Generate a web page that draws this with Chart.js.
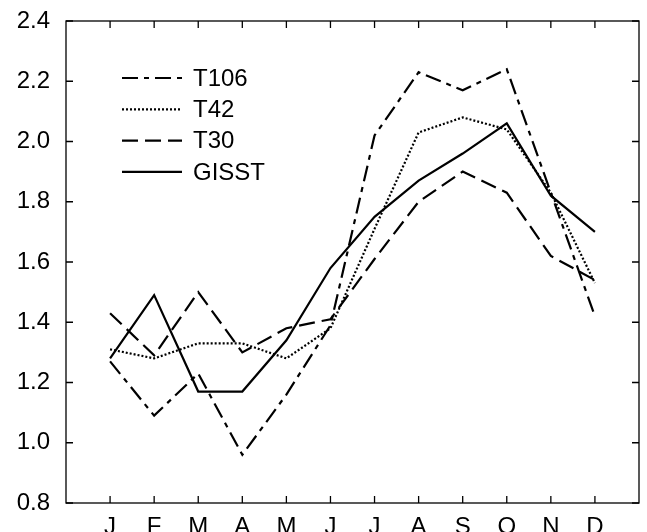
<!DOCTYPE html>
<html>
<head>
<meta charset="utf-8">
<script src="https://cdn.jsdelivr.net/npm/chart.js@4"></script>
<style>
    html, body { margin: 0; padding: 0; background: #fff; }
    #wrap { width: 647px; height: 532px; }
</style>
</head>
<body>
<div id="wrap"><canvas id="chart"></canvas></div>
<script>
const months = ['J', 'F', 'M', 'A', 'M', 'J', 'J', 'A', 'S', 'O', 'N', 'D'];
const yTicks = [0.8, 1.0, 1.2, 1.4, 1.6, 1.8, 2.0, 2.2, 2.4];

const t106 = [1.27, 1.09, 1.23, 0.96, 1.16, 1.39, 2.02, 2.23, 2.17, 2.24, 1.83, 1.42];
const t42 = [1.31, 1.28, 1.33, 1.33, 1.28, 1.38, 1.71, 2.03, 2.08, 2.04, 1.83, 1.53];
const t30 = [1.43, 1.29, 1.50, 1.30, 1.38, 1.41, 1.61, 1.80, 1.90, 1.83, 1.62, 1.54];
const gisst = [1.28, 1.49, 1.17, 1.17, 1.34, 1.58, 1.75, 1.87, 1.96, 2.06, 1.82, 1.70];

const FONT = '"Liberation Sans", Arial, Helvetica, sans-serif';

function series(label, values, dash, width) {
    return {
        label,
        data: values.map((v, i) => ({x: i, y: v})),
        borderColor: '#000',
        borderWidth: width,
        borderDash: dash,
        pointRadius: 0,
        tension: 0,
        fill: false
    };
}

// frame with inward ticks on all four sides, plus the line-sample legend
const framePlugin = {
    id: 'frame',
    afterDraw(chart) {
        const ctx = chart.ctx;
        const a = chart.chartArea;
        const xs = chart.scales.x, ys = chart.scales.y;
        const len = 7;

        ctx.save();
        ctx.strokeStyle = '#000';
        ctx.lineWidth = 1.3;
        ctx.setLineDash([]);
        ctx.strokeRect(a.left, a.top, a.right - a.left, a.bottom - a.top);

        ctx.beginPath();
        months.forEach((m, i) => {
            const px = xs.getPixelForValue(i);
            ctx.moveTo(px, a.bottom);
            ctx.lineTo(px, a.bottom - len);
            ctx.moveTo(px, a.top);
            ctx.lineTo(px, a.top + len);
        });
        yTicks.forEach(v => {
            const py = ys.getPixelForValue(v);
            ctx.moveTo(a.left, py);
            ctx.lineTo(a.left + len, py);
            ctx.moveTo(a.right, py);
            ctx.lineTo(a.right - len, py);
        });
        ctx.stroke();

        // legend
        ctx.font = `24px ${FONT}`;
        ctx.fillStyle = '#000';
        ctx.textBaseline = 'middle';
        chart.data.datasets.forEach((ds, i) => {
            const y = 78 + i * 31.3;
            ctx.beginPath();
            ctx.lineWidth = ds.borderWidth;
            ctx.setLineDash(ds.borderDash);
            ctx.moveTo(122, y);
            ctx.lineTo(182, y);
            ctx.stroke();
            ctx.setLineDash([]);
            ctx.fillText(ds.label, 193, y + 1);
        });
        ctx.restore();
    }
};

new Chart(document.getElementById('chart'), {
    type: 'line',
    data: {
        datasets: [
            series('T106', t106, [16, 6, 5, 6], 2.2),
            series('T42', t42, [2, 2], 2.2),
            series('T30', t30, [16, 7], 2.2),
            series('GISST', gisst, [], 2.2)
        ]
    },
    options: {
        responsive: true,
        maintainAspectRatio: false,
        animation: false,
        layout: {
            padding: {top: 21, right: 8, left: 0, bottom: 0}
        },
        plugins: {
            legend: {display: false},
            tooltip: {enabled: false}
        },
        scales: {
            x: {
                type: 'linear',
                min: -1,
                max: 12,
                grid: {display: false, drawTicks: false},
                border: {display: false},
                afterFit: s => {
                    s.height = 29;
                    s.paddingLeft = 0;
                    s.paddingRight = 0;
                },
                ticks: {
                    stepSize: 1,
                    autoSkip: false,
                    maxRotation: 0,
                    padding: 10,
                    color: '#000',
                    font: {family: FONT, size: 24},
                    callback: v => months[v] ?? ''
                }
            },
            y: {
                min: 0.8,
                max: 2.4,
                grid: {display: false, drawTicks: false},
                border: {display: false},
                afterFit: s => {
                    s.width = 66;
                    s.paddingTop = 0;
                    s.paddingBottom = 0;
                },
                ticks: {
                    stepSize: 0.2,
                    padding: 16,
                    color: '#000',
                    font: {family: FONT, size: 24},
                    callback: v => v.toFixed(1)
                }
            }
        }
    },
    plugins: [framePlugin]
});
</script>
</body>
</html>
